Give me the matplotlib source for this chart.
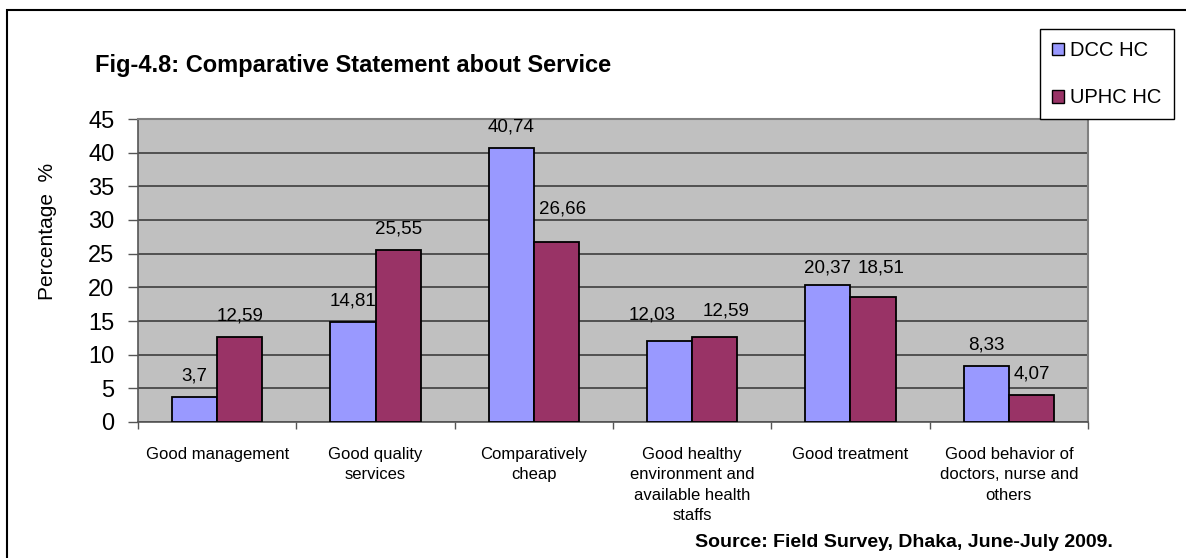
#!/usr/bin/env python3

import numpy as np
import matplotlib
matplotlib.use('Agg')
import matplotlib.pyplot as plt
from matplotlib.patches import Rectangle, Patch

plt.rcParams['font.family'] = ['Liberation Sans', 'DejaVu Sans']

categories = ['Good management', 'Good quality\nservices', 'Comparatively\ncheap',
              'Good healthy\nenvironment and\navailable health\nstaffs',
              'Good treatment', 'Good behavior of\ndoctors, nurse and\nothers']
dcc = [3.7, 14.81, 40.74, 12.03, 20.37, 8.33]
uphc = [12.59, 25.55, 26.66, 12.59, 18.51, 4.07]
series_names = ['DCC HC', 'UPHC HC']
colors = ['#9999FF', '#993366']

W, H = 1186, 558


def label(v):
    return str(v).replace('.', ',')


def main():
    fig = plt.figure(figsize=(W / 100, H / 100), dpi=100)
    ax = fig.add_axes([138 / W, 1 - 422 / H, 950 / W, 303 / H])
    ax.set_facecolor('#C0C0C0')

    # hand-moved data labels in the original (pixels: right, up)
    nudges = [[(0, 0), (0, 0), (0, 0), (-18, 5), (0, -4), (0, 0)],
              [(0, 0), (0, 0), (6, 12), (11, 5), (8, 8), (0, 0)]]

    x = np.arange(len(categories))
    bw = 0.285
    for k, (vals, off) in enumerate([(dcc, -bw / 2), (uphc, bw / 2)]):
        bars = ax.bar(x + off, vals, bw, color=colors[k], edgecolor='black',
                      linewidth=1.3, zorder=3)
        for b, v, (dx, dy) in zip(bars, vals, nudges[k]):
            ax.annotate(label(v), (b.get_x() + b.get_width() / 2, v),
                        xytext=(dx * 0.72, 9 + dy * 0.72), textcoords='offset points',
                        ha='center', va='bottom', fontsize=13.5)

    ax.set_xlim(-0.5, len(categories) - 0.5)
    ax.set_ylim(0, 45)
    ax.set_yticks(range(0, 46, 5))
    ax.yaxis.grid(True, color='#333333', linewidth=1.1, zorder=1)
    ax.tick_params(axis='y', labelsize=17, length=7, width=1, color='#555555', pad=10)

    ax.set_xticks(x)
    ax.set_xticklabels(categories, fontsize=12, linespacing=1.45, va='top')
    ax.set_xticks(np.arange(-0.5, len(categories), 1), minor=True)
    ax.tick_params(axis='x', which='major', length=0, pad=18)
    ax.tick_params(axis='x', which='minor', length=5, width=1, color='#555555')

    for s in ['top', 'right']:
        ax.spines[s].set_color('#808080')
        ax.spines[s].set_linewidth(1.5)
    ax.spines['left'].set_color('#555555')
    ax.spines['bottom'].set_color('#555555')
    ax.spines['left'].set_linewidth(1.2)
    ax.spines['bottom'].set_linewidth(1.2)

    ax.set_ylabel('Percentage  %', fontsize=15)
    ax.yaxis.set_label_coords(-0.085, 0.63)

    fig.text(95 / W, 1 - 72 / H, 'Fig-4.8: Comparative Statement about Service',
             fontsize=17, fontweight='bold', ha='left', va='baseline')
    fig.text(695 / W, 1 - 547 / H, 'Source: Field Survey, Dhaka, June-July 2009.',
             fontsize=14, fontweight='bold', ha='left', va='baseline')

    handles = [Patch(facecolor=c, edgecolor='black', linewidth=1) for c in colors]
    leg = fig.legend(handles, series_names, loc='upper left',
                     bbox_to_anchor=(1040 / W, 1 - 29 / H), fontsize=14.5,
                     handlelength=0.6, handleheight=0.6, handletextpad=0.3,
                     labelspacing=1.4, borderpad=0.6, borderaxespad=0,
                     fancybox=False, framealpha=1)
    leg.get_frame().set_edgecolor('black')
    leg.get_frame().set_linewidth(1)

    fig.patches.append(Rectangle((7 / W, -0.2), 1.3, 0.2 + 1 - 10 / H,
                                 transform=fig.transFigure, fill=False,
                                 edgecolor='black', linewidth=1.5))

    fig.savefig('out.png', dpi=100)


if __name__ == "__main__":
    main()
